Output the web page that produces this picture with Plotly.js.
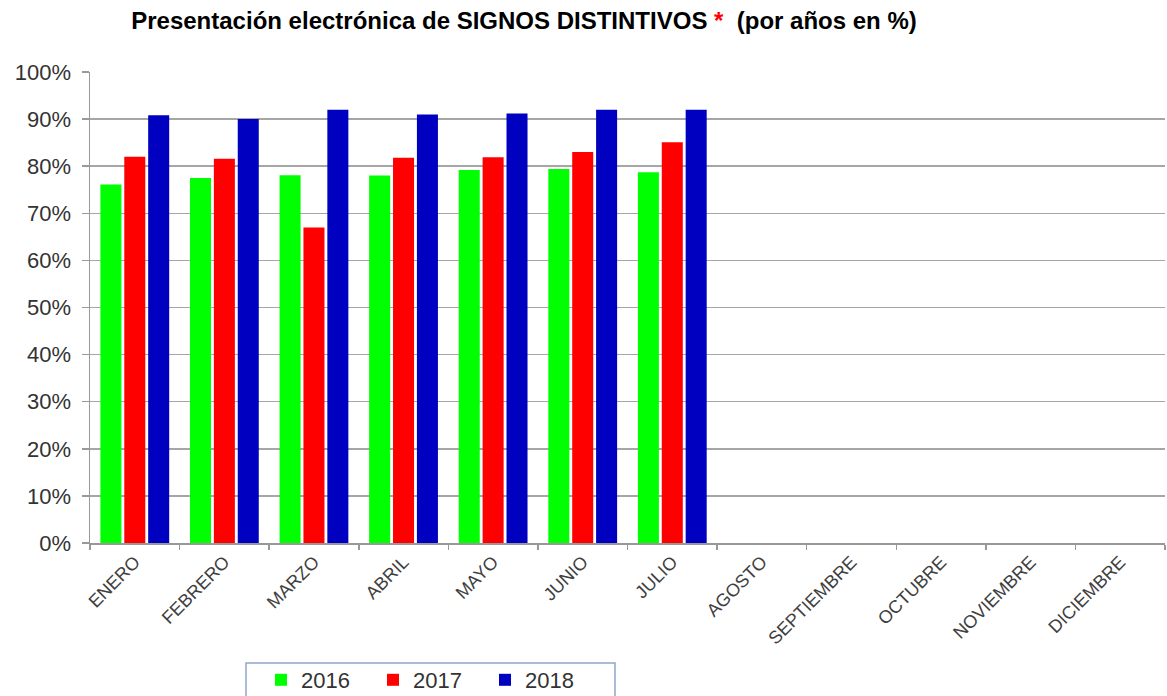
<!DOCTYPE html>
<html>
<head>
<meta charset="utf-8">
<script src="https://cdn.plot.ly/plotly-3.0.1.min.js"></script>
<style>html,body{margin:0;padding:0;background:#fff;}#chart{width:1167px;height:696px;}</style>
</head>
<body>
<div id="chart"></div>
<script>
const months = ["ENERO","FEBRERO","MARZO","ABRIL","MAYO","JUNIO","JULIO","AGOSTO","SEPTIEMBRE","OCTUBRE","NOVIEMBRE","DICIEMBRE"];
const values2016 = [76.1, 77.5, 78.1, 78.0, 79.2, 79.4, 78.7, null, null, null, null, null];
const values2017 = [82.0, 81.6, 67.0, 81.8, 81.9, 83.0, 85.1, null, null, null, null, null];
const values2018 = [90.8, 90.0, 92.0, 91.0, 91.2, 92.0, 92.0, null, null, null, null, null];
const seriesNames = ["2016", "2017", "2018"];
const seriesColors = ["#00ff00", "#ff0000", "#0000c0"];
const seriesValues = [values2016, values2017, values2018];

const traces = seriesValues.map((v, i) => ({
  type: "bar",
  name: seriesNames[i],
  x: months,
  y: v,
  marker: {color: seriesColors[i], line: {width: 0}},
  hoverinfo: "x+y+name"
}));

const W = 1167, H = 696;
const mL = 90, mR = 2, mT = 72, mB = 153;
const plotW = W - mL - mR, plotH = H - mT - mB;

const layout = {
  width: W, height: H,
  paper_bgcolor: "#fff", plot_bgcolor: "#fff",
  margin: {l: mL, r: mR, t: mT, b: mB, autoexpand: false},
  barmode: "group",
  bargap: 0.2,
  bargroupgap: 0.12,
  title: {
    text: '<b>Presentación electrónica de SIGNOS DISTINTIVOS <span style="color:#ff0000">*</span>  (por años en %)</b>',
    font: {family: "Liberation Sans, Arial, sans-serif", size: 24, color: "#000"},
    x: 524 / W, xanchor: "center", xref: "container",
    y: 1 - 21 / H, yanchor: "middle", yref: "container"
  },
  font: {family: "Liberation Sans, Arial, sans-serif", color: "#333"},
  xaxis: {
    type: "category",
    categoryorder: "array", categoryarray: months,
    range: [-0.5, 11.5],
    tickangle: -45,
    tickfont: {size: 18, color: "#404040"},
    tickson: "boundaries",
    ticks: "outside", ticklen: 5, tickcolor: "#999", tickwidth: 1.5,
    showline: true, linecolor: "#999", linewidth: 1.5,
    showgrid: false, zeroline: false, fixedrange: true, automargin: false
  },
  yaxis: {
    range: [0, 100],
    dtick: 10, tick0: 0,
    ticksuffix: "%",
    tickfont: {size: 22, color: "#333"},
    ticks: "outside", ticklen: 7, tickcolor: "#999", tickwidth: 1.5,
    ticklabelstandoff: 6,
    showline: true, linecolor: "#999", linewidth: 1.5,
    showgrid: true, gridcolor: "#a6a6a6", gridwidth: 1.5,
    zeroline: false, fixedrange: true, automargin: false
  },
  legend: {
    orientation: "h",
    xref: "container", yref: "container",
    x: 261 / W, xanchor: "left",
    y: (H - 659) / H, yanchor: "top",
    borderwidth: 0,
    bgcolor: "rgba(0,0,0,0)",
    font: {size: 22, color: "#333"},
    itemwidth: 30,
    entrywidth: 67,
    entrywidthmode: "pixels"
  },
  shapes: [{
    type: "rect", xref: "paper", yref: "paper",
    x0: (246 - mL) / plotW, x1: (615 - mL) / plotW,
    y0: (H - mB - 663) / plotH, y1: (H - mB - 700) / plotH,
    line: {color: "#8fa8c8", width: 1.5}, fillcolor: "rgba(0,0,0,0)", layer: "below"
  }],
  showlegend: true
};

Plotly.newPlot("chart", traces, layout, {displayModeBar: false, staticPlot: true});
</script>
</body>
</html>
